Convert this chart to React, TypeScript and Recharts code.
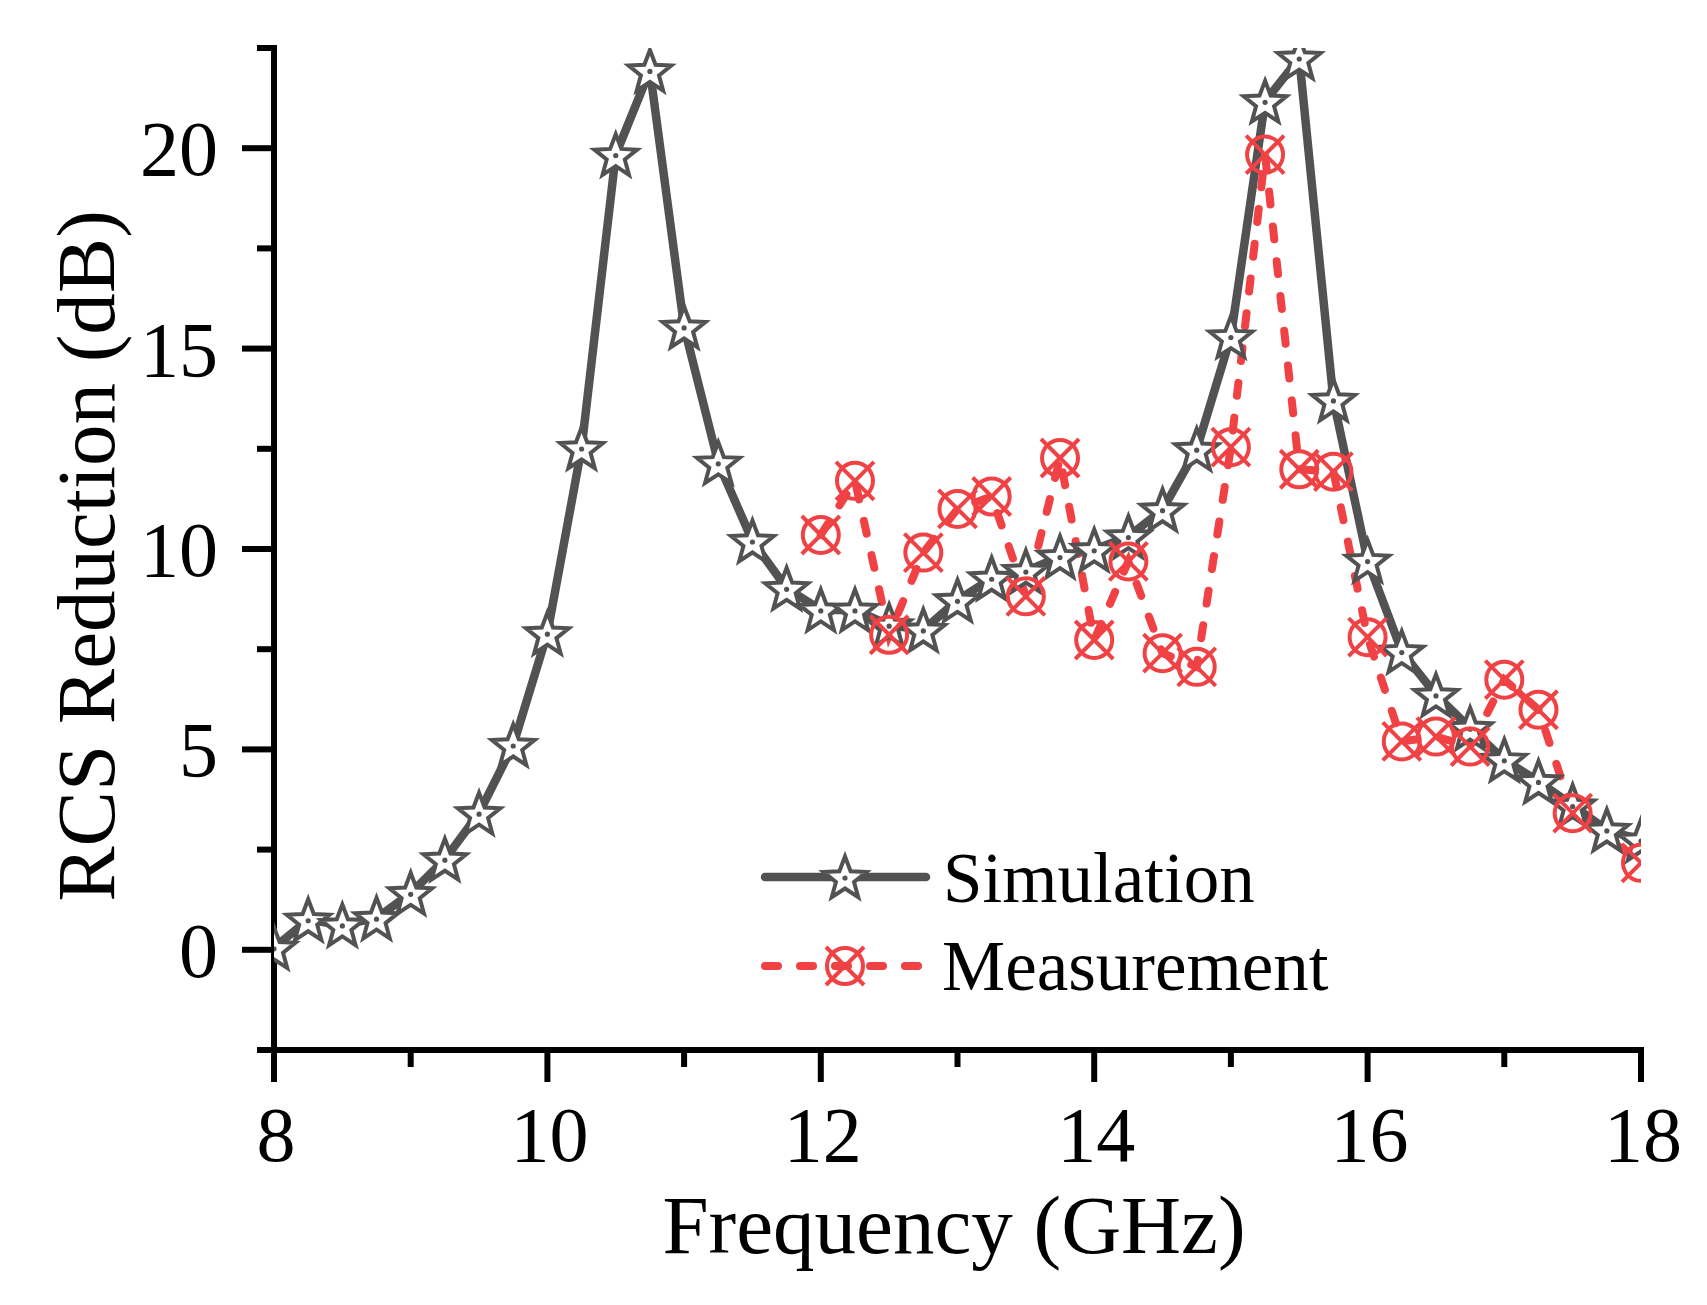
import { LineChart, Line, XAxis, YAxis } from "recharts";

const simFreq = [
  8, 8.25, 8.5, 8.75, 9, 9.25, 9.5, 9.75, 10, 10.25, 10.5, 10.75, 11, 11.25,
  11.5, 11.75, 12, 12.25, 12.5, 12.75, 13, 13.25, 13.5, 13.75, 14, 14.25, 14.5,
  14.75, 15, 15.25, 15.5, 15.75, 16, 16.25, 16.5, 16.75, 17, 17.25, 17.5, 17.75,
  18,
];
const simValues = [
  0.05, 0.75, 0.62, 0.79, 1.41, 2.26, 3.41, 5.11, 7.9, 12.52, 19.84, 21.94,
  15.54, 12.15, 10.2, 9.02, 8.48, 8.48, 8.1, 7.98, 8.72, 9.27, 9.45, 9.81, 9.98,
  10.31, 10.98, 12.49, 15.3, 21.17, 22.25, 13.72, 9.71, 7.44, 6.36, 5.53, 4.74,
  4.2, 3.6, 2.99, 2.74,
];

const measFreq = [
  12, 12.25, 12.5, 12.75, 13, 13.25, 13.5, 13.75, 14, 14.25, 14.5, 14.75, 15,
  15.25, 15.5, 15.75, 16, 16.25, 16.5, 16.75, 17, 17.25, 17.5, 18,
];
const measValues = [
  10.35, 11.7, 7.86, 9.91, 11.0, 11.31, 8.82, 12.27, 7.73, 9.69, 7.4, 7.06,
  12.54, 19.84, 11.99, 11.93, 7.8, 5.2, 5.32, 5.07, 6.74, 5.99, 3.41, 2.17,
];

const xTicks = [8, 9, 10, 11, 12, 13, 14, 15, 16, 17, 18];
const yTicks = [-2.5, 0, 2.5, 5, 7.5, 10, 12.5, 15, 17.5, 20, 22.5];

const simData = simFreq.map((f, i) => ({ f, v: simValues[i] }));
const measData = measFreq.map((f, i) => ({ f, v: measValues[i] }));

const GRAY = "#525252";
const RED = "#F04245";
const FONT = "'Times New Roman', 'Liberation Serif', serif";

function starPath(cx: number, cy: number, R: number, r: number) {
  const pts: string[] = [];
  for (let k = 0; k < 10; k++) {
    const a = -Math.PI / 2 + (k * Math.PI) / 5;
    const rad = k % 2 === 0 ? R : r;
    pts.push(`${cx + rad * Math.cos(a)},${cy + rad * Math.sin(a)}`);
  }
  return `M${pts.join("L")}Z`;
}

function StarMark({ cx, cy }: { cx: number; cy: number }) {
  return (
    <g>
      <path
        d={starPath(cx, cy + 2, 22.5, 9.5)}
        fill="#fff"
        stroke={GRAY}
        strokeWidth={4}
        strokeLinejoin="miter"
      />
      <circle cx={cx} cy={cy + 1} r={2.6} fill={GRAY} />
    </g>
  );
}

function CrossCircle({ cx, cy }: { cx: number; cy: number }) {
  const d = 19;
  return (
    <g>
      <circle cx={cx} cy={cy} r={18} fill="none" stroke={RED} strokeWidth={4} />
      <line x1={cx - d} y1={cy - d} x2={cx + d} y2={cy + d} stroke={RED} strokeWidth={4} />
      <line x1={cx - d} y1={cy + d} x2={cx + d} y2={cy - d} stroke={RED} strokeWidth={4} />
      <circle cx={cx} cy={cy} r={2.6} fill={RED} />
    </g>
  );
}

const XTick = (props: any) => {
  const { x, y, payload } = props;
  const major = payload.value % 2 === 0;
  return (
    <g>
      <line x1={x} x2={x} y1={y} y2={y + (major ? 32 : 17)} stroke="#000" strokeWidth={6} />
      {major && (
        <text x={x + 2} y={y + 111} textAnchor="middle" fontSize={78} fontFamily={FONT} fill="#000">
          {payload.value}
        </text>
      )}
    </g>
  );
};

const YTick = (props: any) => {
  const { x, y, payload } = props;
  const major = payload.value % 5 === 0;
  return (
    <g>
      <line x1={x} x2={x - (major ? 32 : 17)} y1={y} y2={y} stroke="#000" strokeWidth={6} />
      {major && (
        <text x={x - 56} y={y + 27} textAnchor="end" fontSize={78} fontFamily={FONT} fill="#000">
          {payload.value}
        </text>
      )}
    </g>
  );
};

export default function App() {
  return (
    <div
      style={{
        position: "absolute",
        left: 0,
        top: 0,
        width: 1707,
        height: 1305,
        background: "#fff",
      }}
    >
      <LineChart
        width={1707}
        height={1305}
        margin={{ top: 48, right: 66, bottom: 0, left: 0 }}
      >
        <XAxis
          type="number"
          dataKey="f"
          domain={[8, 18]}
          ticks={xTicks}
          interval={0}
          tickSize={0}
          tickMargin={0}
          tickLine={false}
          tick={<XTick />}
          axisLine={{ stroke: "#000", strokeWidth: 6, strokeLinecap: "square" }}
          height={255}
          allowDataOverflow
          label={() => (
            <text x={954} y={1253} textAnchor="middle" fontSize={83} fontFamily={FONT} fill="#000">
              Frequency (GHz)
            </text>
          )}
        />
        <YAxis
          type="number"
          domain={[-2.5, 22.5]}
          ticks={yTicks}
          interval={0}
          tickSize={0}
          tickMargin={0}
          tickLine={false}
          tick={<YTick />}
          axisLine={{ stroke: "#000", strokeWidth: 6, strokeLinecap: "square" }}
          width={274}
          allowDataOverflow
          label={() => (
            <text
              x={114}
              y={556}
              transform="rotate(-90 114 556)"
              textAnchor="middle"
              fontSize={83}
              fontFamily={FONT}
              fill="#000"
            >
              RCS Reduction (dB)
            </text>
          )}
        />
        <Line
          data={simData}
          dataKey="v"
          type="linear"
          stroke={GRAY}
          strokeWidth={8.5}
          strokeLinejoin="round"
          isAnimationActive={false}
          activeDot={false}
          dot={(p: any) => <StarMark key={`s-${p.index}`} cx={p.cx} cy={p.cy} />}
        />
        <Line
          data={measData}
          dataKey="v"
          type="linear"
          stroke={RED}
          strokeWidth={8}
          strokeDasharray="13 22"
          strokeLinecap="round"
          isAnimationActive={false}
          activeDot={false}
          dot={(p: any) => <CrossCircle key={`m-${p.index}`} cx={p.cx} cy={p.cy} />}
        />
      </LineChart>
      <svg
        width={620}
        height={200}
        style={{ position: "absolute", left: 740, top: 820 }}
      >
        <line x1={25} x2={186} y1={57} y2={57} stroke={GRAY} strokeWidth={8.5} strokeLinecap="round" />
        <StarMark cx={105} cy={57} />
        <text x={203} y={82} fontSize={71} fontFamily={FONT} fill="#000">
          Simulation
        </text>
        <line
          x1={25}
          x2={190}
          y1={146}
          y2={146}
          stroke={RED}
          strokeWidth={8}
          strokeDasharray="13 22"
          strokeLinecap="round"
        />
        <CrossCircle cx={105} cy={146} />
        <text x={202} y={170} fontSize={71} fontFamily={FONT} fill="#000">
          Measurement
        </text>
      </svg>
    </div>
  );
}
